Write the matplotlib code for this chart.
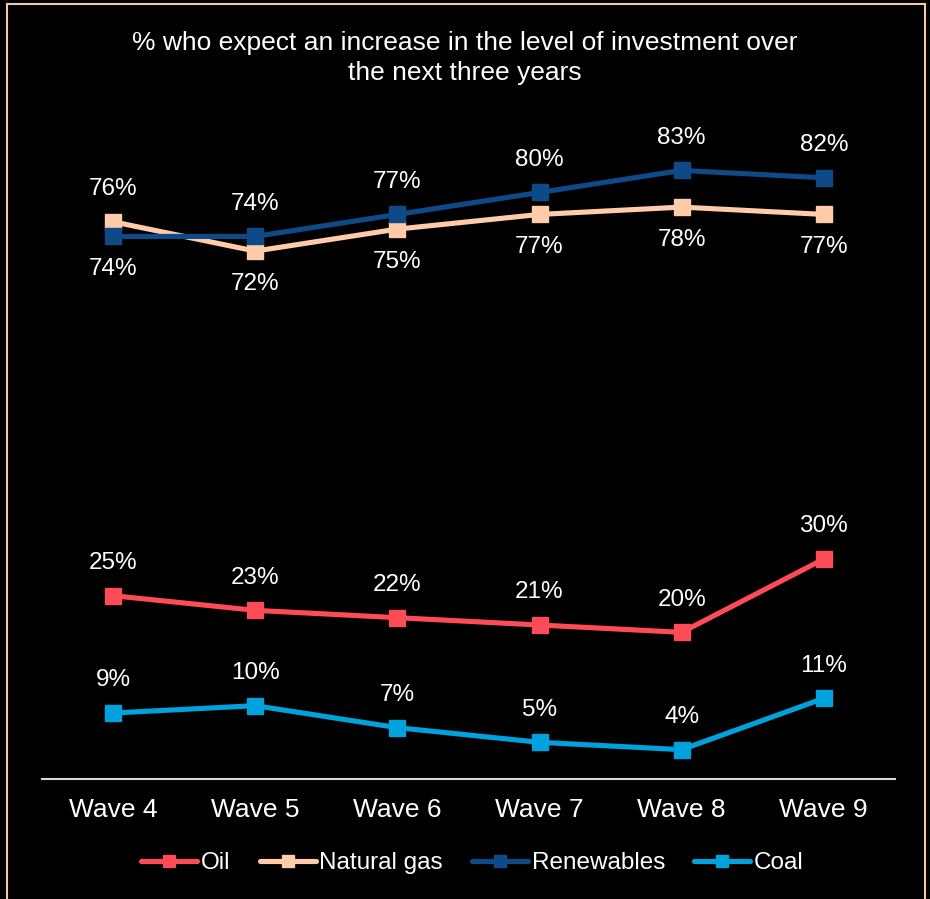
import matplotlib
matplotlib.use("Agg")
import matplotlib.pyplot as plt
from matplotlib.patches import Rectangle

waves = ["Wave 4", "Wave 5", "Wave 6", "Wave 7", "Wave 8", "Wave 9"]
oil = [25, 23, 22, 21, 20, 30]
natural_gas = [76, 72, 75, 77, 78, 77]
renewables = [74, 74, 77, 80, 83, 82]
coal = [9, 10, 7, 5, 4, 11]

# label positions: +1 above, -1 below
gas_pos = [1, -1, -1, -1, -1, -1]
ren_pos = [-1, 1, 1, 1, 1, 1]
oil_pos = [1] * 6
coal_pos = [1] * 6

plt.rcParams['font.family'] = ['Liberation Sans', 'DejaVu Sans']

fig = plt.figure(figsize=(9.3, 8.99), dpi=100, facecolor='black')
ax = fig.add_axes([0.0452, 0.1335, 0.917, 0.734])
ax.set_facecolor('black')

series = [
    ("Oil", oil, "#FF4B55", oil_pos),
    ("Natural gas", natural_gas, "#FFCBA8", gas_pos),
    ("Renewables", renewables, "#0E4A87", ren_pos),
    ("Coal", coal, "#00A2DE", coal_pos),
]
x = list(range(len(waves)))
for name, vals, col, pos in series:
    ax.plot(x, vals, color=col, lw=3.7, marker='s', markersize=11,
            label=name, solid_capstyle='round', zorder=3)
    for xi, v, p in zip(x, vals, pos):
        ax.annotate(f"{v}%", (xi, v), xytext=(0, 23.5 * p), textcoords='offset points',
                    ha='center', va='center', color='white', fontsize=17.5)

ax.set_xlim(-0.5, len(waves) - 0.5)
ax.set_ylim(0, 90)
ax.set_xticks(x)
ax.set_xticklabels(waves, color='white', fontsize=19)
ax.tick_params(axis='x', length=0, pad=14)
ax.set_yticks([])
for s in ['top', 'right', 'left']:
    ax.spines[s].set_visible(False)
ax.spines['bottom'].set_color('#D9D9D9')
ax.spines['bottom'].set_linewidth(1.5)

fig.text(0.5, 0.9355, "% who expect an increase in the level of investment over\nthe next three years",
         ha='center', va='center', color='white', fontsize=19, linespacing=1.35)

leg = fig.legend(loc='center', bbox_to_anchor=(0.508, 0.04), ncol=4, frameon=False,
                 fontsize=17.5, handlelength=2.3, handletextpad=0.15, columnspacing=1.2,
                 markerscale=0.85)
for t in leg.get_texts():
    t.set_color('white')

fig.patches.append(Rectangle((7 / 930, -0.05), 918 / 930, 1 - 4 / 899 + 0.05,
                             transform=fig.transFigure, fill=False,
                             edgecolor='#F5C9A8', lw=1.5))

fig.savefig("out.png", dpi=100, facecolor='black')
